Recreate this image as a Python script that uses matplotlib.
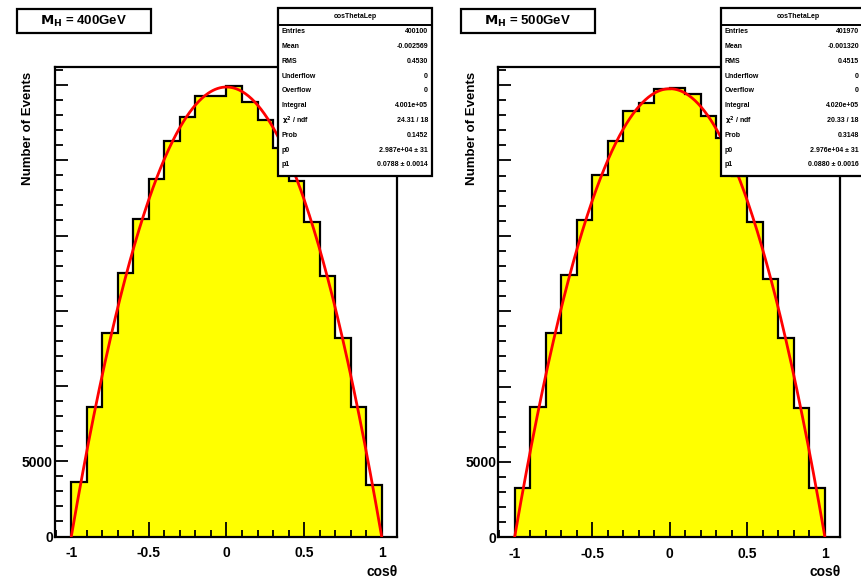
import numpy as np
import matplotlib
matplotlib.use("Agg")
import matplotlib.pyplot as plt
from matplotlib.patches import Rectangle
from matplotlib.lines import Line2D
from matplotlib.ticker import MultipleLocator, FixedLocator, FixedFormatter

plt.rcParams['font.family'] = ['Liberation Sans', 'DejaVu Sans']
plt.rcParams['font.weight'] = 'bold'

# cos(theta) binning: 20 bins from -1 to 1
bin_edges = np.linspace(-1.0, 1.0, 21)

# bin contents for the two mass points
counts_400 = [3610, 8630, 13550, 17480, 21080, 23770, 26300, 27850, 29280, 29280,
              29920, 28880, 27650, 25800, 23650, 20880, 17280, 13210, 8610, 3390]
counts_500 = [3300, 8660, 13570, 17430, 21060, 24030, 26270, 28280, 28830, 29720,
              29830, 29440, 27950, 26470, 23960, 20900, 17140, 13240, 8590, 3300]

# fit results shown in the stat boxes
fit_p0 = [29870, 29760]
fit_p0_err = [31, 31]
fit_p1 = [0.0788, 0.0880]
fit_p1_err = [0.0014, 0.0016]
chi2 = [24.31, 20.33]
ndf = [18, 18]
prob = [0.1452, 0.3148]

titles = ["$\\mathbf{M_{H}}$ = 400GeV", "$\\mathbf{M_{H}}$ = 500GeV"]
hist_name = "cosThetaLep"

W, H = 862, 580
fig = plt.figure(figsize=(W / 100, H / 100), dpi=100)


def fx(px):
    return px / W


def fy(py):
    return 1 - py / H


panels = [
    dict(ax=(55, 66.7, 396.7, 536.5), title=(17, 9, 151, 33), stats=(278, 8, 432, 176),
         val_right=428, ylab=28, xlab=398),
    dict(ax=(498.3, 66.7, 840, 537.3), title=(461, 9, 595, 33), stats=(721, 8, 875, 176),
         val_right=859, ylab=472, xlab=841),
]

for i, (counts, p) in enumerate(zip([counts_400, counts_500], panels)):
    x0, y0, x1, y1 = p['ax']
    ax = fig.add_axes([fx(x0), fy(y1), fx(x1 - x0), (y1 - y0) / H])
    counts = np.asarray(counts, dtype=float)

    ax.stairs(counts, bin_edges, baseline=0, fill=True, color='#ffff00', zorder=1)
    ax.stairs(counts, bin_edges, baseline=0, fill=False, color='black', lw=1.6, zorder=2)

    xf = np.linspace(-1.0, 1.0, 400)
    ax.plot(xf, fit_p0[i] * (1 - xf ** 2), color='#ff0000', lw=2.0, zorder=3, clip_on=True)

    ax.set_xlim(-1.105, 1.097)
    ax.set_ylim(0, 31220)

    for s in ax.spines.values():
        s.set_linewidth(1.6)
    ax.set_xticks([-1, -0.5, 0, 0.5, 1])
    ax.set_xticklabels(['-1', '-0.5', '0', '0.5', '1'])
    ax.xaxis.set_minor_locator(MultipleLocator(0.1))
    yt = [0, 5000, 10000, 15000, 20000, 25000, 30000]
    ax.yaxis.set_major_locator(FixedLocator(yt))
    ax.yaxis.set_major_formatter(FixedFormatter(['0', '5000', '', '', '', '', '']))
    ax.yaxis.set_minor_locator(MultipleLocator(1000))
    ax.tick_params(which='both', direction='in', top=False, right=False, width=1.3,
                   labelsize=10)
    ax.tick_params(axis='x', which='major', length=10.5, pad=7)
    ax.tick_params(axis='x', which='minor', length=5.3)
    ax.tick_params(axis='y', which='major', length=9.5, pad=1.5)
    ax.tick_params(axis='y', which='minor', length=5.5)
    for lab in ax.get_xticklabels() + ax.get_yticklabels():
        lab.set_fontweight('bold')

    # axis titles
    fig.text(fx(p['ylab']), fy(128), "Number of Events", rotation=90, ha='center',
             va='center', fontsize=9.5, fontweight='bold')
    fig.text(fx(p['xlab']), fy(572), "cos\u03b8", ha='right', va='center',
             fontsize=10, fontweight='bold')

    # title box
    tx0, ty0, tx1, ty1 = p['title']
    fig.add_artist(Rectangle((fx(tx0), fy(ty1)), fx(tx1 - tx0), (ty1 - ty0) / H,
                             transform=fig.transFigure, facecolor='white',
                             edgecolor='black', lw=1.6, zorder=5))
    fig.text(fx((tx0 + tx1) / 2), fy((ty0 + ty1) / 2 + 0.5), titles[i], ha='center',
             va='center', fontsize=9.5, fontweight='bold', zorder=6)

    # statistics box
    centers = 0.5 * (bin_edges[:-1] + bin_edges[1:])
    total = counts.sum()
    mean = (centers * counts).sum() / total
    rms = np.sqrt((counts * (centers - mean) ** 2).sum() / total)
    rows = [
        ("Entries", f"{int(round(total))}"),
        ("Mean", f"{mean:.6f}"),
        ("RMS", f"{rms:.4f}"),
        ("Underflow", "0"),
        ("Overflow", "0"),
        ("Integral", f"{total:.3e}"),
        ("$\\mathbf{\\chi^{2}}$ / ndf", f"{chi2[i]:.2f} / {ndf[i]}"),
        ("Prob", f"{prob[i]:.4f}"),
        ("p0", f"{fit_p0[i]:.3e} \u00b1 {fit_p0_err[i]}"),
        ("p1", f"{fit_p1[i]:.4f} \u00b1 {fit_p1_err[i]:.4f}"),
    ]
    sx0, sy0, sx1, sy1 = p['stats']
    fig.add_artist(Rectangle((fx(sx0), fy(sy1)), fx(sx1 - sx0), (sy1 - sy0) / H,
                             transform=fig.transFigure, facecolor='white',
                             edgecolor='black', lw=1.6, zorder=5))
    fig.add_artist(Line2D([fx(sx0), fx(sx1)], [fy(sy0 + 17), fy(sy0 + 17)],
                          transform=fig.transFigure, color='black', lw=1.4, zorder=6))
    fig.text(fx((sx0 + sx1) / 2), fy(sy0 + 8.5), hist_name, ha='center', va='center',
             fontsize=5, fontweight='bold', zorder=7)
    for k, (name, val) in enumerate(rows):
        yy = fy(31.7 + 14.8 * k)
        fig.text(fx(sx0 + 4), yy, name, ha='left', va='center', fontsize=5,
                 fontweight='bold', zorder=7)
        fig.text(fx(p['val_right']), yy, val, ha='right', va='center', fontsize=5,
                 fontweight='bold', zorder=7)

fig.savefig("out.png", dpi=100)
